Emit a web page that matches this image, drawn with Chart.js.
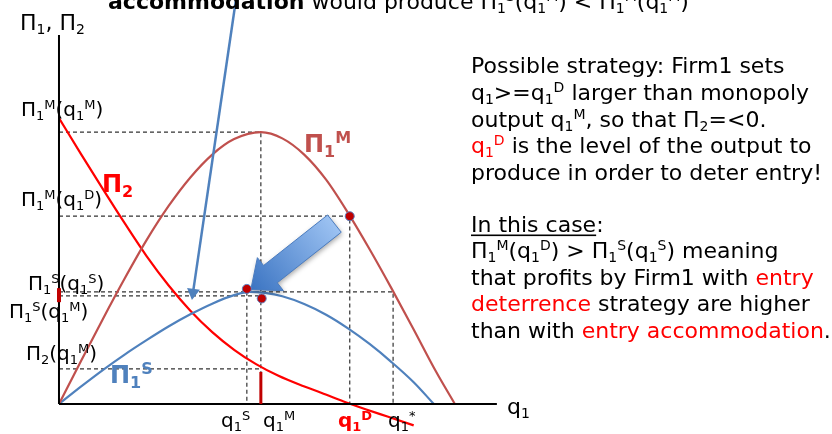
<!DOCTYPE html>
<html><head><meta charset="utf-8">
<script src="https://cdn.jsdelivr.net/npm/chart.js@4"></script>
<style>html,body{margin:0;padding:0;background:#fff;} #wrap{width:832px;height:434px;position:relative;}</style>
</head><body><div id="wrap"><canvas id="c"></canvas></div>
<script>
// ---------- data ----------
const piM_q = [0, 5, 10, 15, 20, 25, 30, 35, 40, 46.1, 51, 56, 61, 66, 71, 76, 81, 86, 90.4];
const piM_v = [0, 11.6, 23.0, 34.0, 44.4, 53.6, 61.4, 67.6, 71.8, 73.7, 72.0, 67.6, 60.8, 51.8, 41.8, 31.2, 20.2, 9.0, 0];

const piS_q = [0, 5, 10, 15, 20, 25, 30, 35, 40, 43.5, 47, 51, 56, 61, 66, 71, 76, 81, 85.6];
const piS_v = [0, 4.7, 9.2, 13.4, 17.3, 21.0, 24.3, 27.2, 29.5, 30.4, 30.1, 29.2, 27.1, 24.2, 20.5, 16.2, 11.3, 5.9, 0];

const pi2_q = [0, 5, 10, 15, 20, 25, 30, 35, 40, 45, 50, 55, 60, 65, 70, 75, 81];
const pi2_v = [77.5, 67.8, 58.3, 49.0, 40.1, 32.2, 25.3, 19.5, 14.7, 10.8, 7.7, 5.2, 3.0, 0.7, -1.4, -3.4, -5.8];

const q1S = 42.9, q1M = 46.1, q1D = 66.4, q1Star = 76.3;
const piM_q1M = 73.7, piM_q1D = 50.9, piS_q1S = 30.4, piS_q1M = 29.3, pi2_q1M = 9.5;

const dot_q = [42.9, 46.3, 66.4];
const dot_v = [31.2, 28.6, 50.9];

const axisMax = [100, 100];              // x-axis length, y-axis height
const pointer_q = [40.4, 30.6];          // thin pointer line
const pointer_v = [109.5, 30.2];
const bigArrow = {tail: [62.9, 48.9], tip: [43.8, 31.0]};

const yTickLabels = ['Π_1^M(q_1^M)', 'Π_1^M(q_1^D)', 'Π_1^S(q_1^S)', 'Π_1^S(q_1^M)', 'Π_2(q_1^M)'];
const xTickLabels = ['q_1^S', 'q_1^M', 'q_1^D', 'q_1^*'];
const curveLabels = ['Π_1^M', 'Π_2', 'Π_1^S'];

const FONT = '"DejaVu Sans", Verdana, sans-serif';
const C_M = '#C0504D', C_S = '#4F81BD', C_2 = '#FF0000', C_DR = '#C00000';

const pts = (xs, ys) => xs.map((x, i) => ({x, y: ys[i]}));
const dash = (arr) => ({data: arr, showLine: true, borderColor: '#333', borderWidth: 1.2, borderDash: [4, 3], pointRadius: 0, order: 10});
const curve = (xs, ys, c) => ({data: pts(xs, ys), showLine: true, borderColor: c, borderWidth: 2.2, pointRadius: 0, cubicInterpolationMode: 'monotone', order: 6});

const datasets = [
  dash([{x:0,y:piM_q1M},{x:q1M,y:piM_q1M},{x:q1M,y:0}]),
  dash([{x:0,y:piM_q1D},{x:q1D,y:piM_q1D},{x:q1D,y:0}]),
  dash([{x:0,y:piS_q1S},{x:q1Star,y:piS_q1S},{x:q1Star,y:0}]),
  dash([{x:0,y:piS_q1M},{x:q1M,y:piS_q1M}]),
  dash([{x:q1S,y:piS_q1S},{x:q1S,y:0}]),
  dash([{x:0,y:pi2_q1M},{x:q1M,y:pi2_q1M}]),
  curve(piM_q, piM_v, C_M),
  curve(piS_q, piS_v, C_S),
  curve(pi2_q, pi2_v, C_2),
  {data: [{x:0,y:0},{x:axisMax[0],y:0}], showLine: true, borderColor: '#000', borderWidth: 2, pointRadius: 0, order: 4},
  {data: [{x:0,y:0},{x:0,y:axisMax[1]}], showLine: true, borderColor: '#000', borderWidth: 2, pointRadius: 0, order: 4},
  {data: [{x:q1M,y:0},{x:q1M,y:8.7}], showLine: true, borderColor: C_DR, borderWidth: 3, pointRadius: 0, order: 3},
  {data: [{x:0,y:27.6},{x:0,y:31.4}], showLine: true, borderColor: C_DR, borderWidth: 4, pointRadius: 0, order: 3},
  {data: pts(pointer_q, pointer_v), showLine: true, borderColor: C_S, borderWidth: 2.5, pointRadius: [0, 5],
   pointStyle: 'triangle', rotation: [0, 188], backgroundColor: C_S, pointBorderColor: C_S, order: 2},
  {data: pts(dot_q, dot_v), showLine: false, pointRadius: 4.5, backgroundColor: C_DR, borderColor: '#5b7fc0', borderWidth: 1, order: 0}
];
const DOTS_INDEX = datasets.length - 1;

function toks(m) {
  const out = [];
  for (let i = 0; i < m.length; i++) {
    const ch = m[i];
    if (ch === '_' || ch === '^') { out.push({t: m[i+1], k: ch}); i++; }
    else if (out.length && out[out.length-1].k === 'n') out[out.length-1].t += ch;
    else out.push({t: ch, k: 'n'});
  }
  return out;
}
// parts: [markup, color, bold, underline]
function rich(ctx, x, y, parts, size) {
  ctx.textBaseline = 'alphabetic'; ctx.textAlign = 'left';
  for (const p of parts) {
    const [m, color, bold, ul] = p;
    const x0 = x;
    for (const tk of toks(m)) {
      const fs = tk.k === 'n' ? size : Math.round(size * 0.65);
      const dy = tk.k === '_' ? size * 0.2 : tk.k === '^' ? -size * 0.36 : 0;
      ctx.font = (bold ? 'bold ' : '') + fs + 'px ' + FONT;
      ctx.fillStyle = color || '#000';
      ctx.fillText(tk.t, x, y + dy);
      x += ctx.measureText(tk.t).width;
    }
    if (ul) { ctx.fillStyle = color || '#000'; ctx.fillRect(x0, y + 3, x - x0, 1.6); }
  }
  return x;
}

const arrowPlugin = {
  id: 'bigArrow',
  beforeDatasetDraw(chart, args) {
    if (args.index !== DOTS_INDEX) return;
    const {ctx, scales: {x, y}} = chart;
    const tx = x.getPixelForValue(bigArrow.tail[0]), ty = y.getPixelForValue(bigArrow.tail[1]);
    const hx = x.getPixelForValue(bigArrow.tip[0]), hy = y.getPixelForValue(bigArrow.tip[1]);
    const dx = hx - tx, dy = hy - ty, L = Math.hypot(dx, dy), ux = dx / L, uy = dy / L, nx = -uy, ny = ux;
    const sw = 11, hw = 21, hl = 25;
    const bx = hx - ux * hl, by = hy - uy * hl;
    ctx.save();
    ctx.beginPath();
    ctx.moveTo(tx + nx * sw, ty + ny * sw);
    ctx.lineTo(bx + nx * sw, by + ny * sw);
    ctx.lineTo(bx + nx * hw, by + ny * hw);
    ctx.lineTo(hx, hy);
    ctx.lineTo(bx - nx * hw, by - ny * hw);
    ctx.lineTo(bx - nx * sw, by - ny * sw);
    ctx.lineTo(tx - nx * sw, ty - ny * sw);
    ctx.closePath();
    const g = ctx.createLinearGradient(tx, ty, hx, hy);
    g.addColorStop(0, '#9cc2f2');
    g.addColorStop(1, '#3b74c2');
    ctx.shadowColor = 'rgba(0,0,0,0.35)'; ctx.shadowBlur = 5; ctx.shadowOffsetX = 1; ctx.shadowOffsetY = 2;
    ctx.fillStyle = g; ctx.fill();
    ctx.shadowColor = 'transparent';
    ctx.strokeStyle = '#4a7cc0'; ctx.lineWidth = 1; ctx.stroke();
    ctx.restore();
  }
};

const textPlugin = {
  id: 'texts',
  beforeDraw(chart) { const c = chart.ctx; c.save(); c.fillStyle = '#fff'; c.fillRect(0, 0, chart.width, chart.height); c.restore(); },
  afterDraw(chart) {
    const ctx = chart.ctx;
    ctx.save();
    rich(ctx, 108, 9, [['accommodation', '#000', true], [' would produce Π_1^S(q_1^M) < Π_1^M(q_1^M)', '#000']], 22);
    rich(ctx, 20, 30, [['Π_1, Π_2', '#000']], 22);
    const yPos = [[21, 116], [21, 206], [28, 290], [9, 318], [26, 360]];
    yTickLabels.forEach((t, i) => rich(ctx, yPos[i][0], yPos[i][1], [[t, '#000']], 20));
    const xPos = [[221, 427, '#000', false], [263, 427, '#000', false], [338, 427, C_2, true], [388, 427, '#000', false]];
    xTickLabels.forEach((t, i) => rich(ctx, xPos[i][0], xPos[i][1], [[t, xPos[i][2], xPos[i][3]]], 20));
    rich(ctx, 507, 414, [['q_1', '#000']], 22);
    rich(ctx, 304, 152, [[curveLabels[0], C_M, true]], 24);
    rich(ctx, 102, 192, [[curveLabels[1], C_2, true]], 24);
    rich(ctx, 110, 383, [[curveLabels[2], C_S, true]], 24);
    const X = 471, S = 22;
    rich(ctx, X, 73, [['Possible strategy: Firm1 sets']], S);
    rich(ctx, X, 100, [['q_1>=q_1^D larger than monopoly']], S);
    rich(ctx, X, 126.5, [['output q_1^M, so that Π_2=<0.']], S);
    rich(ctx, X, 153, [['q_1^D', C_2], [' is the level of the output to']], S);
    rich(ctx, X, 179.5, [['produce in order to deter entry!']], S);
    rich(ctx, X, 231.5, [['In this case', '#000', false, true], [':']], S);
    rich(ctx, X, 258, [['Π_1^M(q_1^D) > Π_1^S(q_1^S) meaning']], S);
    rich(ctx, X, 284.5, [['that profits by Firm1 with '], ['entry', C_2]], S);
    rich(ctx, X, 311, [['deterrence', C_2], [' strategy are higher']], S);
    rich(ctx, X, 337.5, [['than with '], ['entry accommodation', C_2], ['.']], S);
    ctx.restore();
  }
};

new Chart(document.getElementById('c'), {
  type: 'scatter',
  data: {datasets},
  options: {
    responsive: true, maintainAspectRatio: false, animation: false, devicePixelRatio: 1,
    layout: {padding: 0, autoPadding: false},
    plugins: {legend: {display: false}, tooltip: {enabled: false}},
    events: [],
    scales: {
      x: {type: 'linear', min: -13.47, max: 176.53, display: false},
      y: {type: 'linear', min: -8.13, max: 109.5, display: false}
    }
  },
  plugins: [arrowPlugin, textPlugin]
});
</script></body></html>
